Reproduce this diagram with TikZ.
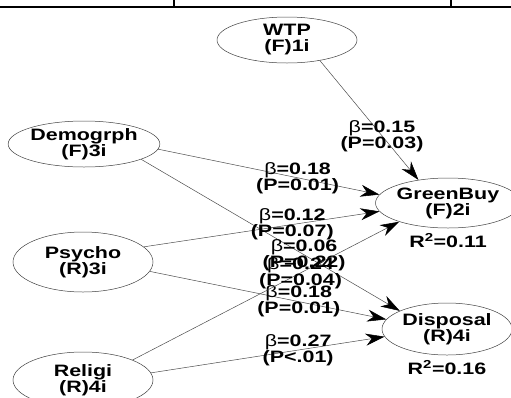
\documentclass[tikz,border=0pt]{standalone}
\usepackage{fontspec}
\setmainfont{Liberation Sans}[FakeStretch=1.3]
\usepackage{tikz}
\usetikzlibrary{shapes.geometric, arrows.meta, positioning}

\begin{document}
\begin{tikzpicture}[x=1pt, y=-1pt]
    % Block styles
    \tikzstyle{latent} = [ellipse, draw=black!75, line width=0.5pt, inner sep=0pt, align=center, font=\fontsize{16.5}{16}\selectfont\bfseries]
    \tikzstyle{coef} = [pos=0.63, inner sep=0pt, align=center, font=\fontsize{16.5}{16}\selectfont\bfseries]
    \tikzstyle{rsq} = [inner sep=0pt, font=\fontsize{16.5}{16}\selectfont\bfseries]
    \tikzstyle{effect} = [draw=black!70, line width=0.5pt, -{Stealth[length=19pt, width=12pt, inset=6pt, color=black]}]
    \useasboundingbox (0,0) rectangle (511,397);
    % Top border
    \draw[line width=1.4pt] (0,7) -- (511,7);
    \draw[line width=1.4pt] (174,0) -- (174,7);
    \draw[line width=1.4pt] (451,0) -- (451,7);
    % Exogenous constructs
    \node[latent, minimum width=140pt, minimum height=46pt] (wtp) at (287,40) {WTP\\(F)1i};
    \node[latent, minimum width=142pt, minimum height=46pt] (demogrph) at (84,144) {Demogrph\\(F)3i};
    \node[latent, minimum width=140pt, minimum height=60pt] (psycho) at (83,262) {Psycho\\(R)3i};
    \node[latent, minimum width=140pt, minimum height=56pt] (religi) at (83,380) {Religi\\(R)4i};
    % Endogenous constructs
    \node[latent, minimum width=132pt, minimum height=50pt] (greenbuy) at (448,203) {GreenBuy\\(F)2i};
    \node[latent, minimum width=130pt, minimum height=52pt] (disposal) at (447,329) {Disposal\\(R)4i};
    \node[rsq, below=5pt of greenbuy] (r2_greenbuy) {R\textsuperscript{2}=0.11};
    \node[rsq, below=5pt of disposal] (r2_disposal) {R\textsuperscript{2}=0.16};
    % Paths
    \draw[effect] (wtp.-32) -- node[coef] {{\mdseries β}=0.15\\(P=0.03)} (greenbuy.142);
    \draw[effect] (demogrph.-4) -- node[coef] {{\mdseries β}=0.18\\(P=0.01)} (greenbuy.173);
    \draw[effect] (demogrph.-15) -- node[coef] {{\mdseries β}=0.06\\(P=0.22)} (disposal.159);
    \draw[effect] (psycho.14) -- node[coef] {{\mdseries β}=0.12\\(P=0.07)} (greenbuy.187);
    \draw[effect] (psycho.-8) -- node[coef] {{\mdseries β}=0.18\\(P=0.01)} (disposal.171);
    \draw[effect] (religi.22) -- node[coef] {{\mdseries β}=0.24\\(P=0.04)} (greenbuy.201);
    \draw[effect] (religi.6) -- node[coef] {{\mdseries β}=0.27\\(P<.01)} (disposal.187);
\end{tikzpicture}
\end{document}
